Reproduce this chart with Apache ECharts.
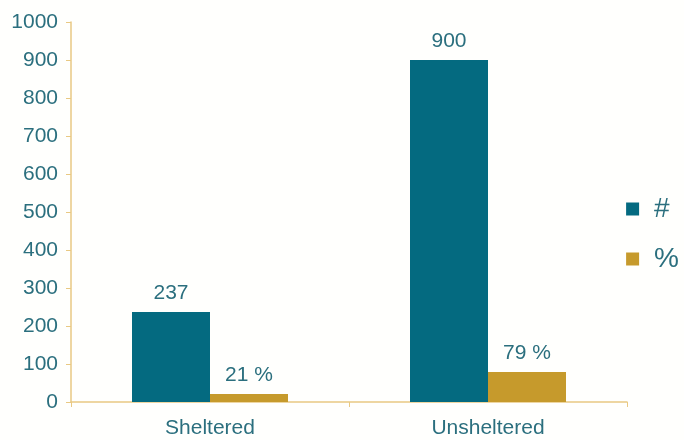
<!DOCTYPE html>
<html><head><meta charset="utf-8">
<script src="https://cdn.jsdelivr.net/npm/echarts@6/dist/echarts.min.js"></script>
<style>html,body{margin:0;padding:0;background:#fffffd}#c{width:684px;height:440px}</style>
</head><body><div id="c"></div>
<script>
const categories = ["Sheltered", "Unsheltered"];
const countValues = [237, 900];
const percentValues = [21, 79];
const yTicks = {min: 0, max: 1000, interval: 100};

const txt = '#2b6f7e';
const axisCol = '#e9c983';
const ff = 'Liberation Sans, Arial';
const chart = echarts.init(document.getElementById('c'));
chart.setOption({
  backgroundColor: '#fffffd',
  animation: false,
  grid: {left: 71, right: 57, top: 22, bottom: 38},
  legend: {
    orient: 'vertical', right: 0, top: 190, itemWidth: 13, itemHeight: 13, itemGap: 22,
    icon: 'rect',
    textStyle: {color: txt, fontSize: 28, fontFamily: ff, padding: [0,0,0,10]},
    data: ['#', '%']
  },
  xAxis: {
    type: 'category', data: categories,
    axisLine: {lineStyle: {color: axisCol, width: 1.5}},
    axisTick: {show: true, lineStyle: {color: axisCol}, length: 5},
    axisLabel: {color: txt, fontSize: 21, fontFamily: ff, margin: 16}
  },
  yAxis: {
    type: 'value', min: yTicks.min, max: yTicks.max, interval: yTicks.interval,
    splitLine: {show: false},
    axisLine: {show: true, lineStyle: {color: axisCol, width: 1.5}},
    axisTick: {show: true, inside: false, lineStyle: {color: axisCol}, length: 5},
    axisLabel: {color: txt, fontSize: 21, fontFamily: ff, margin: 13, formatter: v => String(v)}
  },
  series: [
    {name: '#', type: 'bar', data: countValues, barWidth: 78, barGap: '0%',
     itemStyle: {color: '#046a80'},
     label: {show: true, position: 'top', distance: 8, color: txt, fontSize: 21, fontFamily: ff}},
    {name: '%', type: 'bar', data: percentValues, barWidth: 78,
     itemStyle: {color: '#c69a2c'},
     label: {show: true, position: 'top', distance: 8, color: txt, fontSize: 21, fontFamily: ff,
             formatter: p => p.value + ' %'}}
  ]
});
</script></body></html>
